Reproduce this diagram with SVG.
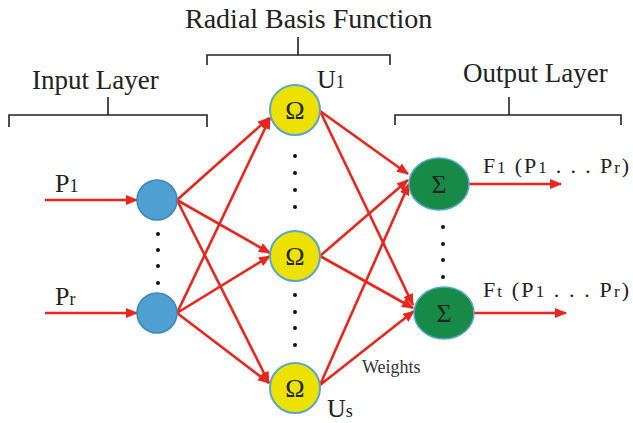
<svg xmlns="http://www.w3.org/2000/svg" width="633" height="423" viewBox="0 0 633 423">
<style>
.t{font-family:"Liberation Serif","Times New Roman",serif;fill:#222}
.c{stroke:#e8261c;stroke-width:2.6;fill:none}
.br{stroke:#222;stroke-width:1.6;fill:none}
.in{fill:#4f9fd2;stroke:#3a88b8;stroke-width:1.5}
.rb{fill:#ede100;stroke:#5aa7c9;stroke-width:2}
.out{fill:#178a48;stroke:#5aa7c9;stroke-width:1.5}
.dot{fill:#111}
.sym{font-size:26px;text-anchor:middle}
</style>
<defs>
<marker id="ah" markerUnits="userSpaceOnUse" markerWidth="12" markerHeight="10" refX="11" refY="5" orient="auto">
<path d="M0,0 L12,5 L0,10 Z" fill="#e8261c"/>
</marker>
</defs>
<rect width="633" height="423" fill="#fff"/>
<g id="titles">
<text class="t" x="32" y="89" font-size="27">Input Layer</text>
<text class="t" x="185" y="28" font-size="28">Radial Basis Function</text>
<text class="t" x="463" y="82" font-size="27">Output Layer</text>
<path class="br" d="M9,127 V115 H207 V127 M108,115 V97"/>
<path class="br" d="M207,65 V55 H390 V65 M298,55 V37"/>
<path class="br" d="M395,125 V115 H621 V125 M509,115 V97"/>
</g>
<g id="connectors">
<line class="c" x1="45" y1="200" x2="137" y2="200" marker-end="url(#ah)"/>
<line class="c" x1="45" y1="313" x2="137" y2="313" marker-end="url(#ah)"/>
<line class="c" x1="177" y1="200" x2="269" y2="118" marker-end="url(#ah)"/>
<line class="c" x1="177" y1="200" x2="270" y2="253" marker-end="url(#ah)"/>
<line class="c" x1="177" y1="200" x2="269" y2="383" marker-end="url(#ah)"/>
<line class="c" x1="177" y1="313" x2="270" y2="118" marker-end="url(#ah)"/>
<line class="c" x1="177" y1="313" x2="270" y2="256" marker-end="url(#ah)"/>
<line class="c" x1="177" y1="313" x2="269" y2="383" marker-end="url(#ah)"/>
<line class="c" x1="320" y1="111" x2="408" y2="174" marker-end="url(#ah)"/>
<line class="c" x1="320" y1="256" x2="408" y2="180" marker-end="url(#ah)"/>
<line class="c" x1="320" y1="385" x2="409" y2="184" marker-end="url(#ah)"/>
<line class="c" x1="320" y1="111" x2="413" y2="305" marker-end="url(#ah)"/>
<line class="c" x1="320" y1="256" x2="413" y2="308" marker-end="url(#ah)"/>
<line class="c" x1="320" y1="385" x2="414" y2="311" marker-end="url(#ah)"/>
<line class="c" x1="469" y1="184" x2="561" y2="184" marker-end="url(#ah)"/>
<line class="c" x1="474" y1="313" x2="566" y2="313" marker-end="url(#ah)"/>
</g>
<g id="input1"><circle class="in" cx="157" cy="200" r="20"/></g>
<g id="input2"><circle class="in" cx="157" cy="313" r="20"/></g>
<g id="rbf1"><circle class="rb" cx="295" cy="110" r="25"/><text class="t sym" x="295" y="119">Ω</text></g>
<g id="rbf2"><circle class="rb" cx="295" cy="256" r="25"/><text class="t sym" x="295" y="265">Ω</text></g>
<g id="rbf3"><circle class="rb" cx="295" cy="388" r="25"/><text class="t sym" x="295" y="397">Ω</text></g>
<g id="out1"><ellipse class="out" cx="439" cy="184" rx="30" ry="26"/><text class="t sym" x="439" y="193">Σ</text></g>
<g id="out2"><ellipse class="out" cx="444" cy="313" rx="30" ry="26"/><text class="t sym" x="444" y="322">Σ</text></g>
<g id="dots">
<circle class="dot" cx="158" cy="234" r="2"/><circle class="dot" cx="158" cy="250" r="2"/><circle class="dot" cx="158" cy="266" r="2"/><circle class="dot" cx="158" cy="283" r="2"/>
<circle class="dot" cx="295" cy="156" r="2"/><circle class="dot" cx="295" cy="173" r="2"/><circle class="dot" cx="295" cy="190" r="2"/><circle class="dot" cx="295" cy="207" r="2"/>
<circle class="dot" cx="295" cy="295" r="2"/><circle class="dot" cx="295" cy="312" r="2"/><circle class="dot" cx="295" cy="328" r="2"/><circle class="dot" cx="295" cy="345" r="2"/>
<circle class="dot" cx="443" cy="227" r="2"/><circle class="dot" cx="443" cy="244" r="2"/><circle class="dot" cx="443" cy="260" r="2"/><circle class="dot" cx="443" cy="277" r="2"/>
</g>
<g id="labels">
<text class="t" x="55" y="192" font-size="26">P<tspan font-size="18">1</tspan></text>
<text class="t" x="55" y="305" font-size="26">P<tspan font-size="18">r</tspan></text>
<text class="t" x="317" y="88" font-size="26">U<tspan font-size="18">1</tspan></text>
<text class="t" x="327" y="417" font-size="26">U<tspan font-size="18">s</tspan></text>
<text class="t" x="362" y="373" font-size="18" style="fill:#333">Weights</text>
<text class="t" x="483" y="173" font-size="22" textLength="146" lengthAdjust="spacing">F<tspan font-size="17">1</tspan> (P<tspan font-size="17">1</tspan> . . . P<tspan font-size="17">r</tspan>)</text>
<text class="t" x="483" y="297" font-size="22" textLength="146" lengthAdjust="spacing">F<tspan font-size="17">t</tspan> (P<tspan font-size="17">1</tspan> . . . P<tspan font-size="17">r</tspan>)</text>
</g>
</svg>
